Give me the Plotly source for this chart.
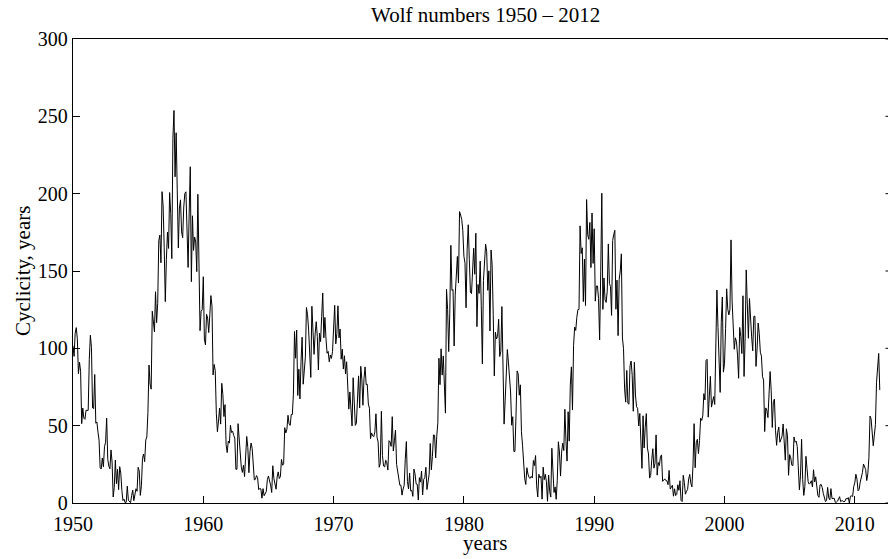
import plotly.graph_objects as go

# Monthly Wolf (sunspot) numbers, one list per decade (Jan..Dec per year)
wolf_1950s = [
    101.6, 94.8, 109.7, 113.4, 106.2, 83.6, 91.0, 85.2, 51.3, 61.4, 54.8, 54.1,
    59.9, 59.9, 59.9, 92.9, 108.5, 100.6, 61.5, 61.0, 83.1, 51.6, 52.4, 45.8,
    40.7, 22.7, 22.0, 29.1, 23.4, 36.4, 39.3, 54.9, 28.2, 23.8, 22.1, 34.3,
    26.5, 3.9, 10.0, 27.8, 12.5, 21.8, 8.6, 23.5, 19.3, 8.2, 1.6, 2.5,
    0.2, 0.5, 10.9, 1.8, 0.8, 0.2, 4.8, 8.4, 1.5, 7.0, 9.2, 7.6,
    23.1, 20.8, 4.9, 11.3, 28.9, 31.7, 26.7, 40.7, 42.7, 58.5, 89.2, 76.9,
    73.6, 124.0, 118.4, 110.7, 136.6, 116.6, 129.1, 169.6, 173.2, 155.3, 201.3, 192.1,
    165.0, 130.2, 157.4, 175.2, 164.6, 200.7, 187.2, 158.0, 235.8, 253.8, 210.9, 239.4,
    202.5, 164.9, 190.7, 196.0, 175.3, 171.5, 191.4, 200.2, 201.2, 181.5, 152.3, 187.6,
    217.4, 143.1, 185.7, 163.3, 172.0, 168.7, 149.6, 199.6, 145.2, 111.4, 124.0, 125.0,
]
wolf_1960s = [
    146.3, 106.0, 102.2, 122.0, 119.6, 110.2, 121.7, 134.1, 127.2, 82.8, 89.6, 85.6,
    57.9, 46.1, 53.0, 61.4, 51.0, 77.4, 70.2, 55.9, 63.6, 37.7, 32.6, 40.0,
    38.7, 50.3, 45.6, 46.4, 43.7, 42.0, 21.8, 21.8, 51.3, 39.5, 26.9, 23.2,
    19.8, 24.4, 17.1, 29.3, 43.0, 35.9, 19.6, 33.2, 38.8, 35.3, 23.4, 14.9,
    15.3, 17.7, 16.5, 8.6, 9.5, 9.1, 3.1, 9.3, 4.7, 6.1, 7.4, 15.1,
    17.5, 14.2, 11.7, 6.8, 24.1, 15.9, 11.9, 8.9, 16.8, 20.1, 15.8, 17.0,
    28.2, 24.4, 25.3, 48.7, 45.3, 47.7, 56.7, 51.2, 50.2, 57.2, 57.2, 70.4,
    110.9, 93.6, 111.8, 69.5, 86.5, 67.3, 91.5, 107.2, 76.8, 88.2, 94.3, 126.4,
    121.8, 111.9, 92.2, 81.2, 127.2, 110.3, 96.1, 109.3, 117.2, 107.7, 86.0, 109.8,
    104.4, 120.5, 135.8, 106.8, 120.0, 106.0, 96.8, 98.0, 91.3, 95.7, 93.5, 97.9,
]
wolf_1970s = [
    111.5, 127.8, 102.9, 109.5, 127.5, 106.8, 112.5, 93.0, 99.5, 86.6, 95.2, 83.5,
    91.3, 79.0, 60.7, 71.8, 57.5, 49.8, 81.0, 61.4, 50.2, 51.7, 63.2, 82.2,
    61.5, 88.4, 80.1, 63.2, 80.5, 88.0, 76.5, 76.8, 64.0, 61.3, 41.6, 45.3,
    43.4, 42.9, 46.0, 57.7, 42.4, 39.5, 23.1, 25.6, 59.3, 30.7, 23.9, 23.3,
    27.6, 26.0, 21.3, 40.3, 39.5, 36.6, 55.8, 33.6, 40.2, 47.1, 25.0, 20.5,
    18.9, 11.5, 11.5, 5.1, 9.0, 11.4, 28.2, 39.7, 13.9, 9.1, 19.4, 7.8,
    8.1, 4.3, 21.9, 18.8, 12.4, 12.2, 1.9, 16.4, 13.5, 20.6, 5.2, 15.3,
    16.4, 23.1, 8.7, 12.9, 18.6, 38.5, 21.4, 30.1, 44.0, 43.8, 29.1, 43.2,
    51.9, 93.6, 76.5, 99.7, 82.7, 95.1, 70.4, 58.1, 138.2, 125.1, 97.9, 122.7,
    166.6, 137.5, 138.0, 101.5, 134.4, 149.5, 159.4, 142.2, 188.4, 186.2, 183.3, 176.3,
]
wolf_1980s = [
    159.6, 155.0, 126.2, 164.1, 179.9, 157.3, 136.3, 135.4, 155.0, 164.7, 147.9, 174.4,
    114.0, 141.3, 135.5, 156.4, 127.5, 90.0, 143.8, 158.7, 167.3, 162.4, 137.5, 150.1,
    111.2, 163.6, 153.8, 122.0, 82.2, 110.4, 106.1, 107.6, 118.8, 94.7, 98.1, 127.0,
    84.3, 51.0, 66.5, 80.7, 99.2, 91.1, 82.2, 71.8, 50.3, 55.8, 33.3, 33.4,
    57.0, 85.4, 83.5, 69.7, 76.4, 46.1, 37.4, 25.5, 15.7, 12.0, 22.8, 18.7,
    16.5, 15.9, 17.2, 16.2, 27.5, 24.2, 30.7, 11.1, 3.9, 18.6, 16.2, 17.3,
    2.5, 23.2, 15.1, 18.5, 13.7, 1.1, 18.1, 7.4, 3.8, 35.4, 15.2, 6.8,
    10.4, 2.4, 14.7, 39.6, 33.0, 17.4, 33.0, 38.7, 33.9, 60.6, 39.9, 27.1,
    59.0, 40.0, 76.2, 88.0, 60.1, 101.8, 113.8, 111.6, 120.1, 125.1, 125.1, 179.2,
    161.3, 165.0, 130.2, 157.7, 127.7, 196.2, 173.4, 170.5, 181.4, 152.2, 187.5, 154.9,
]
wolf_1990s = [
    177.3, 130.5, 140.3, 140.3, 132.2, 105.4, 149.4, 200.3, 125.2, 145.5, 131.4, 129.7,
    136.9, 167.5, 141.9, 140.0, 121.3, 169.7, 173.7, 176.3, 125.3, 144.1, 108.2, 144.4,
    150.0, 161.1, 106.7, 99.8, 73.8, 65.2, 85.7, 64.5, 63.9, 88.7, 91.8, 82.6,
    59.3, 91.0, 69.8, 62.2, 61.3, 49.8, 57.9, 42.2, 22.4, 56.4, 35.6, 48.9,
    57.8, 35.5, 31.7, 16.1, 17.8, 28.0, 35.1, 22.5, 25.7, 44.0, 18.0, 26.2,
    24.2, 29.9, 31.1, 14.0, 14.5, 15.6, 14.5, 14.3, 11.8, 21.1, 9.0, 10.0,
    11.5, 4.4, 9.2, 4.8, 5.5, 11.8, 8.2, 14.4, 1.6, 0.9, 17.9, 13.3,
    5.7, 7.6, 8.7, 15.5, 18.5, 12.7, 10.4, 24.4, 51.3, 22.8, 39.0, 41.2,
    31.9, 40.3, 54.8, 53.4, 56.3, 70.7, 66.6, 92.2, 92.9, 55.5, 74.0, 81.9,
    62.0, 66.3, 68.8, 63.7, 106.4, 137.7, 113.5, 93.7, 71.5, 116.7, 133.2, 84.6,
]
wolf_2000s = [
    90.1, 112.9, 138.5, 125.5, 121.6, 124.9, 170.1, 130.5, 109.7, 99.4, 106.8, 104.4,
    95.6, 80.6, 113.5, 107.7, 96.6, 134.0, 81.8, 106.4, 150.7, 125.5, 106.5, 132.2,
    114.1, 107.4, 98.4, 120.7, 120.8, 88.3, 99.6, 116.4, 109.6, 97.5, 95.0, 81.6,
    79.5, 46.2, 61.5, 60.0, 55.2, 77.4, 85.0, 72.7, 48.8, 65.6, 67.2, 46.7,
    37.3, 45.8, 49.1, 39.3, 41.5, 43.2, 51.1, 40.9, 27.7, 48.0, 43.5, 17.9,
    31.3, 29.2, 24.5, 24.2, 42.7, 39.3, 40.0, 36.4, 22.1, 8.5, 18.0, 41.2,
    15.3, 4.9, 10.6, 30.2, 22.3, 13.9, 12.2, 12.9, 14.4, 10.4, 21.5, 13.6,
    16.9, 10.6, 4.8, 3.7, 11.7, 12.0, 10.0, 6.2, 2.4, 0.9, 1.7, 10.1,
    3.3, 2.1, 9.3, 2.9, 2.9, 3.1, 0.5, 0.5, 1.1, 2.9, 4.1, 0.8,
    1.5, 1.4, 0.7, 1.2, 2.9, 2.6, 3.5, 0.0, 4.4, 4.6, 4.2, 10.6,
]
wolf_2010s = [
    13.1, 18.6, 15.4, 7.9, 8.8, 13.5, 16.1, 19.6, 25.2, 23.5, 21.6, 14.5,
    19.0, 29.4, 56.2, 54.4, 41.6, 37.0, 43.9, 50.6, 78.0, 88.0, 96.7, 73.0,
]

start_year = 1950
x_ticks = [1950, 1960, 1970, 1980, 1990, 2000, 2010]
y_ticks = [0, 50, 100, 150, 200, 250, 300]
title_text = "Wolf numbers 1950 \u2013 2012"
x_label = "years"
y_label = "Cyclicity, years"

values = wolf_1950s + wolf_1960s + wolf_1970s + wolf_1980s + wolf_1990s + wolf_2000s + wolf_2010s
times = [start_year + i / 12.0 for i in range(len(values))]

FONT = "Liberation Serif, Times New Roman, serif"
W, H = 888, 559
ML, MR, MT, MB = 73, 0, 39, 56
PW = W - ML - MR

fig = go.Figure()
fig.add_trace(go.Scatter(x=times, y=values, mode="lines",
                         line=dict(color="black", width=1), hoverinfo="skip",
                         showlegend=False))

px_per_year = 13.03
x_end = start_year + PW / px_per_year

fig.update_layout(
    width=W, height=H,
    margin=dict(l=ML, r=MR, t=MT, b=MB),
    paper_bgcolor="white", plot_bgcolor="white",
    font=dict(family=FONT, size=20, color="black"),
    xaxis=dict(range=[start_year, x_end], tickvals=x_ticks, ticks="inside", ticklen=7,
               tickwidth=1, tickcolor="black", showline=True, linecolor="black",
               linewidth=1.3, mirror=True, showgrid=False, zeroline=False,
               ticklabelstandoff=3,
               tickfont=dict(family=FONT, size=20, color="black")),
    yaxis=dict(range=[0, 300], tickvals=y_ticks, ticks="inside", ticklen=7,
               tickwidth=1, tickcolor="black", showline=True, linecolor="black",
               linewidth=1.3, mirror=False, showgrid=False, zeroline=False,
               tickfont=dict(family=FONT, size=20, color="black")),
    annotations=[
        dict(text=title_text, xref="paper", yref="paper", x=(485 - ML) / PW, y=1,
             xanchor="center", yanchor="bottom", yshift=10, showarrow=False,
             font=dict(family=FONT, size=21, color="black")),
        dict(text=x_label, xref="paper", yref="paper", x=(485 - ML) / PW, y=0,
             xanchor="center", yanchor="top", yshift=-26, showarrow=False,
             font=dict(family=FONT, size=21, color="black")),
        dict(text=y_label, xref="paper", yref="paper", x=0, y=0.5, xanchor="right",
             yanchor="middle", xshift=-36, textangle=-90, showarrow=False,
             font=dict(family=FONT, size=21, color="black")),
    ],
)

# right-hand tick stubs (the right frame edge lies just outside the picture)
for v in y_ticks:
    fig.add_shape(type="line", xref="paper", yref="y", x0=1 - 2.5 / PW, x1=1, y0=v, y1=v,
                  line=dict(color="black", width=1))

fig.write_html("out.html", config={"displayModeBar": False},
               post_script="document.body.style.margin='0';document.body.style.padding='0';"
                           "document.body.style.overflow='hidden';")
